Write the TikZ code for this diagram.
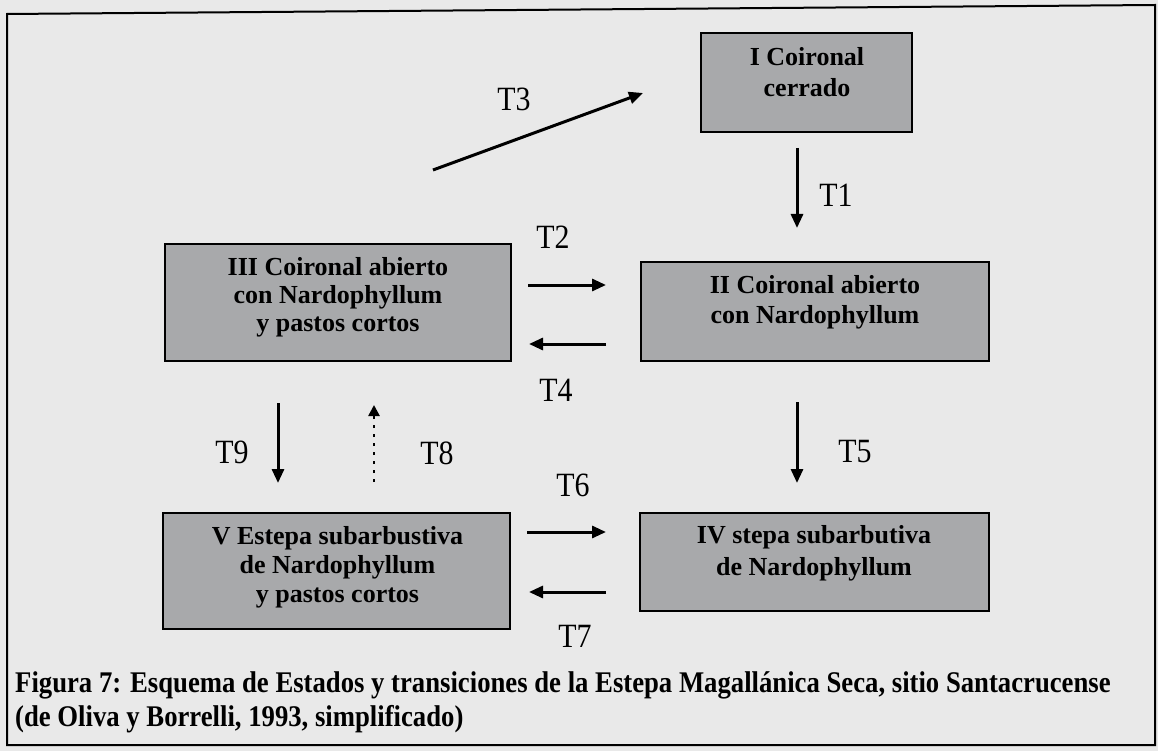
\documentclass[tikz,border=0pt]{standalone}
\usepackage{fontspec}
\setmainfont{Liberation Serif}
\newfontfamily\lblfont{Liberation Serif}[FakeStretch=0.88]
\newfontfamily\capfont{Liberation Serif}[FakeStretch=0.89]
\usetikzlibrary{arrows.meta}
\definecolor{bg}{RGB}{233,233,233}
\definecolor{boxfill}{RGB}{168,169,171}
\tikzset{
  statebox/.style={draw=black, line width=2pt, fill=boxfill, inner sep=0pt},
  boxtext/.style={align=center, inner sep=0pt, font=\fontsize{26}{29}\selectfont\bfseries},
  tlabel/.style={inner sep=0pt, font=\lblfont\fontsize{34}{34}\selectfont},
  trans/.style={line width=3pt, -{Triangle[length=14pt,width=12pt]}},
  transdot/.style={line width=2.5pt, dash pattern=on 3pt off 6pt, -{Triangle[length=11pt,width=11pt]}},
  captext/.style={inner sep=0pt, anchor=base west, font=\capfont\bfseries\fontsize{30}{24}\selectfont}
}
\begin{document}
\begin{tikzpicture}[x=1pt,y=-1pt]
\useasboundingbox (0,0) rectangle (1158,751);
\fill[bg] (0,0) rectangle (1158,751);
% outer frame
\draw[line width=2pt] (7,14) -- (1155,5) -- (1155,745) -- (7,745) -- cycle;

% state boxes
\node[statebox, minimum width=211pt, minimum height=99pt] (b1) at (806.5,82.5) {};
\node[statebox, minimum width=348pt, minimum height=99pt] (b2) at (815,311.5) {};
\node[statebox, minimum width=346pt, minimum height=117pt] (b3) at (338,302.5) {};
\node[statebox, minimum width=349pt, minimum height=98pt] (b4) at (814.5,562) {};
\node[statebox, minimum width=347pt, minimum height=116pt] (b5) at (336.5,571) {};

\node[boxtext, font=\fontsize{26}{31}\selectfont\bfseries] (t1) at (807,71.8) {I Coironal\\cerrado};
\node[boxtext, font=\fontsize{26}{30}\selectfont\bfseries] (t2) at (815,302) {II Coironal abierto\\con Nardophyllum};
\node[boxtext, font=\fontsize{26}{28}\selectfont\bfseries] (t3) at (338,297) {III Coironal abierto\\con Nardophyllum\\y pastos cortos};
\node[boxtext, font=\fontsize{26}{32}\selectfont\bfseries] (t4) at (814,553) {IV stepa subarbutiva\\de Nardophyllum};
\node[boxtext, font=\fontsize{26}{29}\selectfont\bfseries] (t5) at (337.5,567) {V Estepa subarbustiva\\de Nardophyllum\\y pastos cortos};

% arrow end points
\coordinate (a3s) at (433,170);  \coordinate (a3e) at (643,93);
\coordinate (a1s) at (797,148);  \coordinate (a1e) at (797,228);
\coordinate (a2s) at (528,285);  \coordinate (a2e) at (606,285);
\coordinate (a4s) at (606,344);  \coordinate (a4e) at (529,344);
\coordinate (a5s) at (797,402);  \coordinate (a5e) at (797,483);
\coordinate (a6s) at (527,532);  \coordinate (a6e) at (606,532);
\coordinate (a7s) at (606,592);  \coordinate (a7e) at (529,592);
\coordinate (a9s) at (278,403);  \coordinate (a9e) at (278,483);
\coordinate (a8s) at (374,482);  \coordinate (a8e) at (374,405);

\draw[trans] (a3s) -- (a3e);
\draw[trans] (a1s) -- (a1e);
\draw[trans] (a2s) -- (a2e);
\draw[trans] (a4s) -- (a4e);
\draw[trans] (a5s) -- (a5e);
\draw[trans] (a6s) -- (a6e);
\draw[trans] (a7s) -- (a7e);
\draw[trans] (a9s) -- (a9e);
\draw[transdot] (a8s) -- (a8e);

% transition labels
\node[tlabel] (l3) at (514,99) {T3};
\node[tlabel] (l1) at (836,195) {T1};
\node[tlabel] (l2) at (553,237) {T2};
\node[tlabel] (l4) at (556,390) {T4};
\node[tlabel] (l9) at (232,452) {T9};
\node[tlabel] (l8) at (437,453) {T8};
\node[tlabel] (l5) at (855,452) {T5};
\node[tlabel] (l6) at (573,485) {T6};
\node[tlabel] (l7) at (575,636) {T7};

% caption
\node[captext] (c1) at (15,692) {Figura 7: Esquema de Estados y transiciones de la Estepa Magallánica Seca, sitio Santacrucense};
\node[captext] (c2) at (15,726) {(de Oliva y Borrelli, 1993, simplificado)};
\end{tikzpicture}
\end{document}
